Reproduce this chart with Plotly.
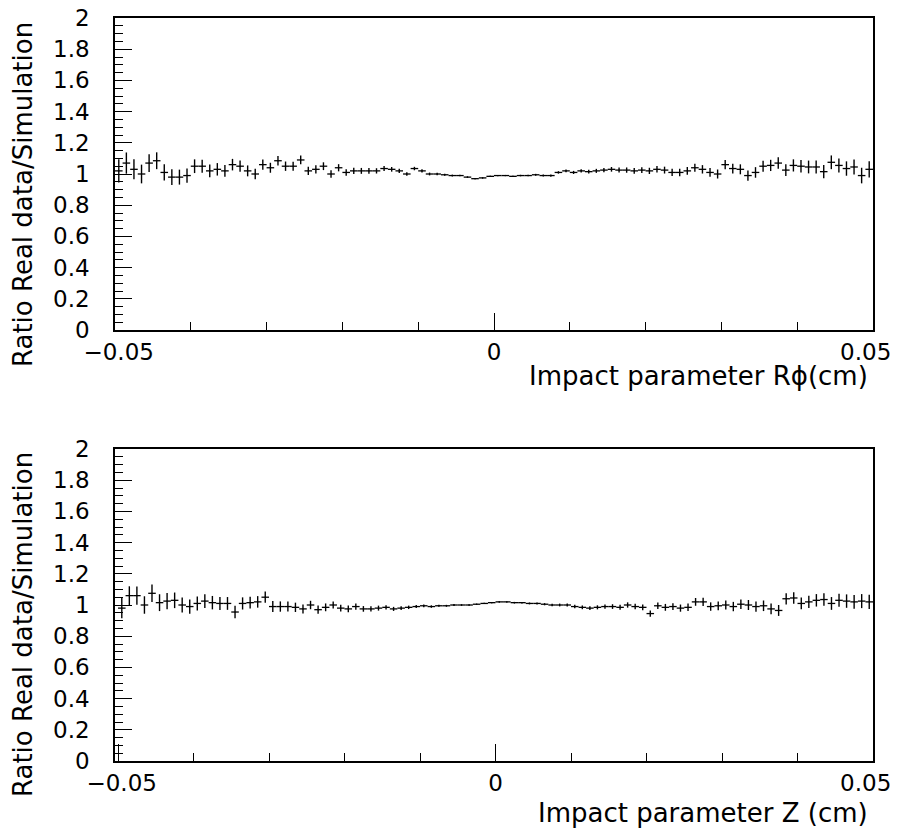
import plotly.graph_objects as go
from plotly.subplots import make_subplots

# ---- histogram binning (100 bins from -0.05 to 0.05 cm) ----
N_BINS = 100
X_LO, X_HI = -0.05, 0.05
bin_w = (X_HI - X_LO) / N_BINS
bin_centers = [X_LO + bin_w * (i + 0.5) for i in range(N_BINS)]

# ---- top panel: Impact parameter R-phi, ratio real data / simulation ----
rphi_ratio = [
    1.02, 1.07, 1.03, 1.00, 1.07, 1.085, 1.01, 0.98, 0.98, 0.99,
    1.05, 1.05, 1.02, 1.03, 1.02, 1.06, 1.05, 1.02, 1.00, 1.06,
    1.04, 1.085, 1.05, 1.05, 1.09, 1.02, 1.03, 1.05, 1.00, 1.04,
    1.01, 1.02, 1.02, 1.02, 1.02, 1.035, 1.03, 1.02, 1.00, 1.035,
    1.02, 1.00, 1.00, 0.995, 0.99, 0.99, 0.98, 0.97, 0.975, 0.985,
    0.99, 0.99, 0.985, 0.99, 0.99, 0.995, 0.99, 0.99, 1.01, 1.02,
    1.01, 1.02, 1.015, 1.02, 1.025, 1.03, 1.025, 1.025, 1.02, 1.025,
    1.02, 1.03, 1.025, 1.01, 1.01, 1.02, 1.04, 1.03, 1.01, 1.00,
    1.06, 1.035, 1.03, 0.99, 1.01, 1.05, 1.055, 1.07, 1.025, 1.055,
    1.05, 1.045, 1.045, 1.015, 1.075, 1.055, 1.035, 1.045, 0.99, 1.03,
]
rphi_err = [
    0.075, 0.068, 0.064, 0.060, 0.057, 0.054, 0.052, 0.050, 0.048, 0.046,
    0.044, 0.042, 0.041, 0.040, 0.038, 0.037, 0.036, 0.035, 0.034, 0.033,
    0.032, 0.031, 0.030, 0.029, 0.028, 0.027, 0.026, 0.025, 0.024, 0.023,
    0.021, 0.020, 0.019, 0.018, 0.017, 0.016, 0.015, 0.014, 0.012, 0.011,
    0.010, 0.009, 0.008, 0.007, 0.006, 0.005, 0.005, 0.004, 0.004, 0.004,
    0.004, 0.004, 0.004, 0.005, 0.005, 0.006, 0.006, 0.007, 0.008, 0.009,
    0.010, 0.011, 0.012, 0.013, 0.014, 0.015, 0.016, 0.017, 0.018, 0.019,
    0.020, 0.021, 0.022, 0.023, 0.024, 0.025, 0.026, 0.027, 0.028, 0.029,
    0.030, 0.031, 0.032, 0.033, 0.034, 0.035, 0.036, 0.037, 0.038, 0.039,
    0.040, 0.041, 0.042, 0.043, 0.044, 0.045, 0.046, 0.048, 0.050, 0.052,
]

# ---- bottom panel: Impact parameter Z ----
z_ratio = [
    0.98, 1.06, 1.06, 1.00, 1.075, 1.015, 1.025, 1.03, 1.00, 0.99,
    1.01, 1.025, 1.015, 1.01, 1.01, 0.955, 1.01, 1.015, 1.02, 1.05,
    0.99, 0.99, 0.99, 0.985, 0.975, 1.00, 0.97, 0.985, 1.00, 0.98,
    0.975, 0.99, 0.975, 0.975, 0.98, 0.985, 0.975, 0.98, 0.985, 0.99,
    0.995, 0.99, 0.995, 0.995, 1.00, 1.00, 1.00, 1.005, 1.01, 1.015,
    1.02, 1.02, 1.015, 1.015, 1.01, 1.01, 1.005, 1.00, 1.00, 1.00,
    0.99, 0.985, 0.98, 0.985, 0.99, 0.99, 0.985, 1.00, 0.99, 0.985,
    0.945, 0.995, 0.985, 0.99, 0.98, 0.985, 1.02, 1.02, 0.99, 0.995,
    1.00, 0.99, 1.005, 1.00, 0.99, 0.995, 0.975, 0.965, 1.04, 1.045,
    1.01, 1.02, 1.03, 1.035, 1.01, 1.03, 1.025, 1.02, 1.025, 1.02,
]
z_err = [
    0.065, 0.060, 0.058, 0.056, 0.056, 0.054, 0.052, 0.050, 0.048, 0.046,
    0.045, 0.044, 0.043, 0.042, 0.041, 0.040, 0.039, 0.038, 0.037, 0.036,
    0.035, 0.033, 0.032, 0.030, 0.029, 0.027, 0.026, 0.025, 0.023, 0.022,
    0.021, 0.020, 0.018, 0.017, 0.016, 0.014, 0.013, 0.012, 0.011, 0.010,
    0.009, 0.008, 0.007, 0.006, 0.006, 0.005, 0.005, 0.004, 0.004, 0.004,
    0.004, 0.004, 0.005, 0.005, 0.006, 0.006, 0.007, 0.008, 0.009, 0.010,
    0.011, 0.012, 0.012, 0.013, 0.014, 0.015, 0.016, 0.017, 0.018, 0.019,
    0.020, 0.021, 0.022, 0.022, 0.023, 0.024, 0.025, 0.026, 0.027, 0.028,
    0.029, 0.030, 0.031, 0.032, 0.033, 0.034, 0.035, 0.035, 0.036, 0.037,
    0.038, 0.039, 0.040, 0.040, 0.041, 0.042, 0.043, 0.044, 0.045, 0.046,
]

# ---- tick labels and titles ----
x_tick_vals = [-0.05, 0, 0.05]
x_tick_text = ["\u00a0\u22120.05", "0", "0.05\u00a0\u00a0"]
y_title = "Ratio Real data/Simulation"
x_title_top = "Impact parameter R\u03d5(cm)"
x_title_bot = "Impact parameter Z (cm)"

FONT = "DejaVu Sans"
OFF = 8                     # page body margin in the browser
W, H = 900 - OFF, 832 - OFF
ML, MR, MT, MB = 115 - OFF, 27, 18 - OFF, 71
PW, PH = W - ML - MR, H - MT - MB

def py(pix):   # screen pixel -> paper y
    return (H - MB - (pix - OFF)) / PH

def px(pix):   # screen pixel -> paper x
    return (pix - OFF - ML) / PW

fig = make_subplots(rows=2, cols=1)

def add_hist(x, y, e, row, hw):
    fig.add_trace(go.Scatter(
        x=x, y=y, mode="markers",
        marker=dict(size=1, color="black"),
        error_y=dict(type="data", array=e, visible=True, color="black",
                     thickness=1.4, width=0),
        error_x=dict(type="constant", value=hw, visible=True, color="black",
                     thickness=1.3, width=0),
        showlegend=False, hoverinfo="skip",
    ), row=row, col=1)

add_hist(bin_centers, rphi_ratio, rphi_err, 1, bin_w / 2)
add_hist(bin_centers, z_ratio, z_err, 2, bin_w / 2)

axis_common = dict(
    showgrid=False, zeroline=False, showline=True, linecolor="black",
    linewidth=1.6, mirror=True, ticks="inside", tickcolor="black",
    tickwidth=1, tickfont=dict(family=FONT, size=23, color="black"),
    automargin=False, ticklabeloverflow="allow",
)

fig.update_xaxes(**axis_common, tickmode="array", tickvals=x_tick_vals,
                 ticktext=x_tick_text, ticklen=17,
                 minor=dict(dtick=0.01, tick0=0, ticks="inside", ticklen=8,
                            tickcolor="black", tickwidth=1, showgrid=False),
                 ticklabelstandoff=1)
fig.update_yaxes(**axis_common, range=[0, 2], tick0=0, dtick=0.2, ticklen=17,
                 minor=dict(dtick=0.05, ticks="inside", ticklen=8,
                            tickcolor="black", tickwidth=1, showgrid=False),
                 ticklabelstandoff=19)

fig.update_layout(
    width=W, height=H, autosize=False,
    margin=dict(l=ML, r=MR, t=MT, b=MB, autoexpand=False),
    paper_bgcolor="white", plot_bgcolor="white",
    xaxis=dict(domain=[0, 1], range=[-0.05, 0.05]),
    xaxis2=dict(domain=[0, 1], range=[-0.0504, 0.05]),
    yaxis=dict(domain=[py(330), 1]),
    yaxis2=dict(domain=[0, py(449)]),
    font=dict(family=FONT, color="black"),
)

ann_font = dict(family=FONT, size=26, color="black")
fig.add_annotation(text=y_title, xref="paper", yref="paper", x=px(23), y=py(195),
                   textangle=-90, showarrow=False, xanchor="center", yanchor="middle",
                   font=ann_font)
fig.add_annotation(text=y_title, xref="paper", yref="paper", x=px(23), y=py(625),
                   textangle=-90, showarrow=False, xanchor="center", yanchor="middle",
                   font=ann_font)
fig.add_annotation(text=x_title_top, xref="paper", yref="paper", x=px(870), y=py(376),
                   showarrow=False, xanchor="right", yanchor="middle", font=ann_font)
fig.add_annotation(text=x_title_bot, xref="paper", yref="paper", x=px(870), y=py(813),
                   showarrow=False, xanchor="right", yanchor="middle", font=ann_font)

fig.write_html("out.html")
